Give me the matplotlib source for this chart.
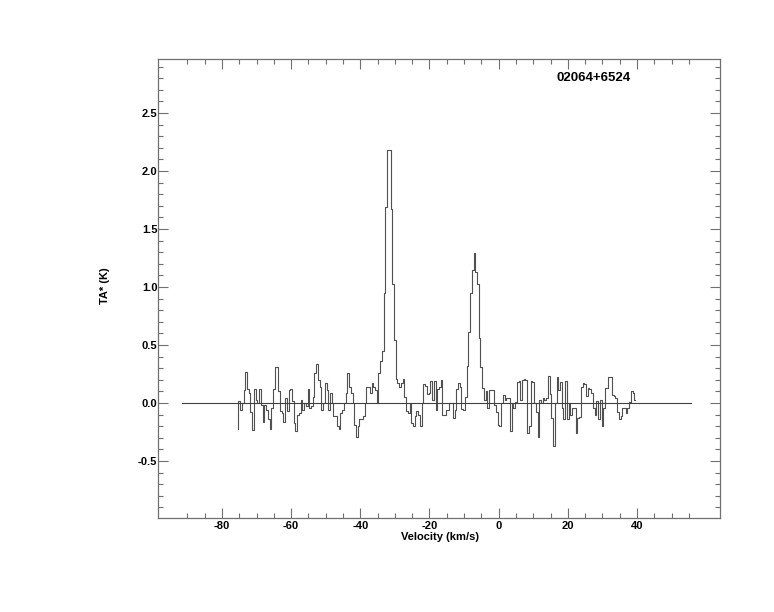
import numpy as np
import matplotlib
matplotlib.use("Agg")
import matplotlib.pyplot as plt
from matplotlib.ticker import MultipleLocator, FixedLocator

plt.rcParams['font.family'] = ['Liberation Sans', 'DejaVu Sans']
plt.rcParams['font.weight'] = 'bold'

# spectrum: channel 0 at v0, spacing dv (km/s)
v0 = -75.5
dv = 0.5
ta = [
    # -75.5 .. -53.0
    -0.22, 0.02, -0.06, 0.00, 0.11, 0.27, 0.12, 0.09, -0.08, -0.23,
    0.12, 0.03, 0.00, 0.12, -0.02, -0.16, -0.02, -0.06, -0.14, -0.22,
    -0.04, 0.12, 0.31, 0.31, 0.10, -0.07, -0.09, -0.16, 0.04, -0.07,
    0.11, 0.12, 0.02, -0.17, -0.24, -0.10, -0.09, 0.03, -0.06, 0.00,
    -0.03, 0.12, -0.04, -0.03, 0.05, 0.26,
    # -52.5 .. -29.0
    0.34, 0.20, 0.14, -0.06, 0.00, 0.17, 0.11, -0.06, 0.09, 0.00,
    -0.11, -0.11, -0.20, -0.22, -0.09, -0.06, 0.00, 0.09, 0.26, 0.14,
    0.09, 0.00, -0.19, -0.29, -0.20, -0.14, -0.14, -0.11, 0.00, 0.14,
    0.14, 0.09, 0.17, 0.14, 0.11, 0.00, 0.26, 0.36, 0.45, 0.95,
    1.69, 2.18, 2.18, 1.67, 1.03, 0.54, 0.21, 0.17,
    # -28.5 .. -4.5
    0.14, 0.17, 0.21, 0.05, -0.07, -0.09, 0.00, -0.17, -0.20, -0.11,
    -0.07, -0.10, -0.20, 0.00, 0.16, 0.15, 0.08, 0.09, 0.19, 0.03,
    0.19, -0.06, 0.12, 0.14, 0.20, -0.10, -0.10, -0.06, -0.06, 0.00,
    0.00, -0.13, -0.06, 0.12, 0.17, 0.14, -0.05, -0.06, 0.05, 0.32,
    0.61, 0.95, 1.15, 1.29, 1.13, 1.03, 0.56, 0.31, 0.13,
    # -4.0 .. 18.0
    0.03, 0.10, -0.04, 0.11, 0.11, 0.11, -0.02, -0.08, -0.19, -0.20,
    0.00, 0.07, 0.03, 0.04, 0.04, -0.24, -0.01, -0.04, 0.01, 0.18,
    0.19, 0.03, 0.20, 0.21, 0.20, -0.26, -0.20, 0.19, 0.18, 0.00,
    -0.08, -0.29, 0.03, 0.00, 0.04, 0.03, 0.04, 0.23, 0.08, -0.13,
    -0.37, 0.00, 0.22, 0.11, 0.18,
    # 18.5 .. 39.5
    -0.04, -0.14, 0.19, -0.14, 0.00, -0.10, -0.04, -0.04, -0.26, -0.13,
    -0.12, 0.14, 0.17, 0.16, 0.06, 0.13, 0.12, 0.09, -0.04, -0.10,
    0.02, -0.14, 0.03, -0.20, -0.04, 0.13, 0.13, 0.22, 0.22, 0.07,
    0.06, 0.04, -0.08, -0.14, -0.11, -0.04, -0.04, -0.09, -0.04, 0.01,
    0.10, 0.09, 0.03,
]
vel = v0 + dv * np.arange(len(ta))

baseline_v = [-91.5, 55.5]
baseline_y = [0.0, 0.0]
source_name = "02064+6524"

fig = plt.figure(figsize=(7.74, 6.12), dpi=100)
ax = fig.add_axes([0.2041, 0.1539, 0.7261, 0.7505])

ax.step(vel, ta, where='mid', color='#505050', lw=0.8)
ax.plot(baseline_v, baseline_y, color='#404040', lw=0.8)

ax.set_xlim(-98.5, 64)
ax.set_ylim(-0.99, 2.97)

ax.xaxis.set_major_locator(FixedLocator([-80, -60, -40, -20, 0, 20, 40]))
ax.xaxis.set_minor_locator(FixedLocator(np.arange(-90, 56, 5)))
ax.yaxis.set_major_locator(MultipleLocator(0.5))
ax.yaxis.set_minor_locator(MultipleLocator(0.1))
ax.yaxis.set_major_formatter(plt.FuncFormatter(lambda y, p: f"{y:.1f}"))
ax.xaxis.set_major_formatter(plt.FuncFormatter(lambda x, p: f"{x:.0f}"))

ax.tick_params(which='both', direction='in', top=True, right=True,
               color='#707070', labelsize=8)
ax.tick_params(which='major', length=7, width=0.8)
ax.tick_params(which='minor', length=3.6, width=0.8)
ax.tick_params(axis='x', pad=2)
ax.tick_params(axis='y', pad=0.5)
for s in ax.spines.values():
    s.set_color('#707070')
    s.set_linewidth(0.9)

ax.set_xlabel("Velocity (km/s)", fontsize=8, fontweight='bold')
ax.set_ylabel("TA* (K)", fontsize=8, fontweight='bold')
ax.xaxis.set_label_coords(0.502, -0.031)
ax.yaxis.set_label_coords(-0.085, 0.505)

ax.text(0.776, 0.958, source_name, transform=ax.transAxes, ha='center',
        va='center', fontsize=9.5, fontweight='bold')

fig.savefig("out.png", dpi=100)
